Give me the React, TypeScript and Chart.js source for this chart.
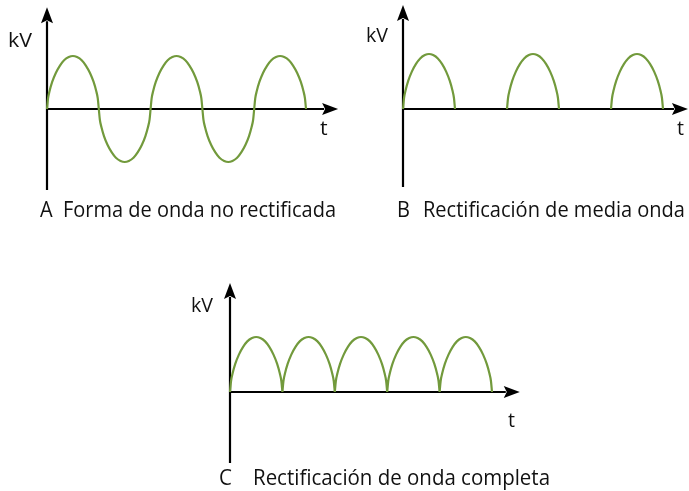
import React, { useEffect, useRef } from "react";
import { Chart, registerables } from "chart.js";

Chart.register(...registerables);

// ---- data (time in half-periods, voltage normalised to peak) ----
const timeAB = [
  0, 0.02, 0.05, 0.1, 0.17, 0.25, 0.33, 0.42, 0.5, 0.58, 0.67, 0.75, 0.83, 0.9, 0.95, 0.98,
  1, 1.02, 1.05, 1.1, 1.17, 1.25, 1.33, 1.42, 1.5, 1.58, 1.67, 1.75, 1.83, 1.9, 1.95, 1.98,
  2, 2.02, 2.05, 2.1, 2.17, 2.25, 2.33, 2.42, 2.5, 2.58, 2.67, 2.75, 2.83, 2.9, 2.95, 2.98,
  3, 3.02, 3.05, 3.1, 3.17, 3.25, 3.33, 3.42, 3.5, 3.58, 3.67, 3.75, 3.83, 3.9, 3.95, 3.98,
  4, 4.02, 4.05, 4.1, 4.17, 4.25, 4.33, 4.42, 4.5, 4.58, 4.67, 4.75, 4.83, 4.9, 4.95, 4.98,
  5,
];

const voltsA = [
  0, 0.2, 0.34, 0.51, 0.68, 0.82, 0.92, 0.98, 1, 0.98, 0.92, 0.82, 0.68, 0.51, 0.34, 0.2,
  0, -0.2, -0.34, -0.51, -0.68, -0.82, -0.92, -0.98, -1, -0.98, -0.92, -0.82, -0.68, -0.51, -0.34, -0.2,
  0, 0.2, 0.34, 0.51, 0.68, 0.82, 0.92, 0.98, 1, 0.98, 0.92, 0.82, 0.68, 0.51, 0.34, 0.2,
  0, -0.2, -0.34, -0.51, -0.68, -0.82, -0.92, -0.98, -1, -0.98, -0.92, -0.82, -0.68, -0.51, -0.34, -0.2,
  0, 0.2, 0.34, 0.51, 0.68, 0.82, 0.92, 0.98, 1, 0.98, 0.92, 0.82, 0.68, 0.51, 0.34, 0.2,
  0,
];

const voltsB = [
  0, 0.2, 0.34, 0.51, 0.68, 0.82, 0.92, 0.98, 1, 0.98, 0.92, 0.82, 0.68, 0.51, 0.34, 0.2,
  0, null, null, null, null, null, null, null, null, null, null, null, null, null, null, null,
  0, 0.2, 0.34, 0.51, 0.68, 0.82, 0.92, 0.98, 1, 0.98, 0.92, 0.82, 0.68, 0.51, 0.34, 0.2,
  0, null, null, null, null, null, null, null, null, null, null, null, null, null, null, null,
  0, 0.2, 0.34, 0.51, 0.68, 0.82, 0.92, 0.98, 1, 0.98, 0.92, 0.82, 0.68, 0.51, 0.34, 0.2,
  0,
];

const timeC = [
  0, 0.02, 0.05, 0.1, 0.17, 0.25, 0.33, 0.42, 0.5, 0.58, 0.67, 0.75, 0.83, 0.9, 0.95, 0.98, 1,
  1,
  1, 1.02, 1.05, 1.1, 1.17, 1.25, 1.33, 1.42, 1.5, 1.58, 1.67, 1.75, 1.83, 1.9, 1.95, 1.98, 2,
  2,
  2, 2.02, 2.05, 2.1, 2.17, 2.25, 2.33, 2.42, 2.5, 2.58, 2.67, 2.75, 2.83, 2.9, 2.95, 2.98, 3,
  3,
  3, 3.02, 3.05, 3.1, 3.17, 3.25, 3.33, 3.42, 3.5, 3.58, 3.67, 3.75, 3.83, 3.9, 3.95, 3.98, 4,
  4,
  4, 4.02, 4.05, 4.1, 4.17, 4.25, 4.33, 4.42, 4.5, 4.58, 4.67, 4.75, 4.83, 4.9, 4.95, 4.98, 5,
];

const voltsC = [
  0, 0.2, 0.34, 0.51, 0.68, 0.82, 0.92, 0.98, 1, 0.98, 0.92, 0.82, 0.68, 0.51, 0.34, 0.2, 0,
  null,
  0, 0.2, 0.34, 0.51, 0.68, 0.82, 0.92, 0.98, 1, 0.98, 0.92, 0.82, 0.68, 0.51, 0.34, 0.2, 0,
  null,
  0, 0.2, 0.34, 0.51, 0.68, 0.82, 0.92, 0.98, 1, 0.98, 0.92, 0.82, 0.68, 0.51, 0.34, 0.2, 0,
  null,
  0, 0.2, 0.34, 0.51, 0.68, 0.82, 0.92, 0.98, 1, 0.98, 0.92, 0.82, 0.68, 0.51, 0.34, 0.2, 0,
  null,
  0, 0.2, 0.34, 0.51, 0.68, 0.82, 0.92, 0.98, 1, 0.98, 0.92, 0.82, 0.68, 0.51, 0.34, 0.2, 0,
];

const yLabel = "kV";
const xLabel = "t";
const letters = ["A", "B", "C"];
const captions = [
  "Forma de onda no rectificada",
  "Rectificación de media onda",
  "Rectificación de onda completa",
];

// ---- layout / style ----
const GREEN = "#729a3c";
const TEXT = "#111";
const FONT = "'Open Sans', 'Noto Sans', sans-serif";
const CAPTION_SIZE = 21;
const LABEL_SIZE = 19.5;

type Panel = {
  time: number[];
  volts: (number | null)[];
  box: { left: number; top: number; w: number; h: number };
  pad: { left: number; right: number; top: number; bottom: number };
  ext: { yTop: number; yBottom: number; xRight: number };
  kvWidth: number;
  kv: { right: number; base: number };
  t: { left: number; base: number };
  cap: { letterX: number; left: number; right: number; base: number };
  letter: string;
  caption: string;
};

const panels: Panel[] = [
  {
    time: timeAB,
    volts: voltsA,
    box: { left: 0, top: 0, w: 345, h: 230 },
    pad: { left: 47, right: 39, top: 56, bottom: 68 },
    ext: { yTop: 1.92, yBottom: -1.53, xRight: 5.62 },
    kvWidth: 24,
    kv: { right: 32, base: 47 },
    t: { left: 320, base: 135 },
    cap: { letterX: 40, left: 63, right: 336, base: 217 },
    letter: letters[0],
    caption: captions[0],
  },
  {
    time: timeAB,
    volts: voltsB,
    box: { left: 345, top: 0, w: 344, h: 250 },
    pad: { left: 58, right: 26, top: 54, bottom: 86 },
    ext: { yTop: 1.89, yBottom: -1.42, xRight: 5.48 },
    kvWidth: 22,
    kv: { right: 43, base: 42 },
    t: { left: 332, base: 135 },
    cap: { letterX: 52, left: 78, right: 340, base: 217 },
    letter: letters[1],
    caption: captions[1],
  },
  {
    time: timeC,
    volts: voltsC,
    box: { left: 180, top: 270, w: 375, h: 221 },
    pad: { left: 50, right: 63, top: 67, bottom: 44 },
    ext: { yTop: 1.98, yBottom: -1.29, xRight: 5.53 },
    kvWidth: 22,
    kv: { right: 33, base: 42 },
    t: { left: 328, base: 157 },
    cap: { letterX: 39, left: 73, right: 370, base: 215 },
    letter: letters[2],
    caption: captions[2],
  },
];

function drawScaled(
  ctx: CanvasRenderingContext2D,
  text: string,
  x: number,
  base: number,
  sx: number
) {
  ctx.save();
  ctx.translate(x, base);
  ctx.scale(sx, 1);
  ctx.fillText(text, 0, 0);
  ctx.restore();
}

function makePlugin(p: Panel) {
  return {
    id: "axesArrows",
    beforeDatasetsDraw(chart: any) {
      const ctx: CanvasRenderingContext2D = chart.ctx;
      const xs = chart.scales.x;
      const ys = chart.scales.y;
      const x0 = xs.getPixelForValue(0);
      const y0 = ys.getPixelForValue(0);
      const yTop = ys.getPixelForValue(p.ext.yTop);
      const yBot = ys.getPixelForValue(p.ext.yBottom);
      const xRight = xs.getPixelForValue(p.ext.xRight);
      const headL = 16;
      const headW = 6;
      ctx.save();
      ctx.strokeStyle = "#000";
      ctx.fillStyle = "#000";
      ctx.lineWidth = 2.2;
      ctx.beginPath();
      ctx.moveTo(x0, yBot);
      ctx.lineTo(x0, yTop + headL - 2);
      ctx.moveTo(x0 - 1, y0);
      ctx.lineTo(xRight - headL + 2, y0);
      ctx.stroke();
      ctx.beginPath();
      ctx.moveTo(x0, yTop);
      ctx.lineTo(x0 + headW, yTop + headL);
      ctx.lineTo(x0, yTop + headL - 3);
      ctx.lineTo(x0 - headW, yTop + headL);
      ctx.closePath();
      ctx.fill();
      ctx.beginPath();
      ctx.moveTo(xRight, y0);
      ctx.lineTo(xRight - headL, y0 - headW);
      ctx.lineTo(xRight - headL + 3, y0);
      ctx.lineTo(xRight - headL, y0 + headW);
      ctx.closePath();
      ctx.fill();
      ctx.restore();
    },
    afterDraw(chart: any) {
      const ctx: CanvasRenderingContext2D = chart.ctx;
      ctx.save();
      ctx.fillStyle = TEXT;
      ctx.textBaseline = "alphabetic";
      ctx.textAlign = "left";
      ctx.font = `500 ${LABEL_SIZE}px ${FONT}`;
      const kvW = ctx.measureText(yLabel).width;
      const kvS = p.kvWidth / kvW;
      drawScaled(ctx, yLabel, p.kv.right - kvW * kvS, p.kv.base, kvS);
      drawScaled(ctx, xLabel, p.t.left, p.t.base, kvS);
      ctx.font = `500 ${CAPTION_SIZE}px ${FONT}`;
      const capW = ctx.measureText(p.caption).width;
      const capS = (p.cap.right - p.cap.left) / capW;
      drawScaled(ctx, p.letter, p.cap.letterX, p.cap.base, capS);
      drawScaled(ctx, p.caption, p.cap.left, p.cap.base, capS);
      ctx.restore();
    },
  };
}

function WavePanel({ p }: { p: Panel }) {
  const ref = useRef<HTMLCanvasElement | null>(null);
  useEffect(() => {
    if (!ref.current) return;
    const data = p.time.map((t, i) => ({ x: t, y: p.volts[i] }));
    const chart = new Chart(ref.current, {
      type: "line",
      data: {
        datasets: [
          {
            data: data as any,
            borderColor: GREEN,
            borderWidth: 2.2,
            pointRadius: 0,
            fill: false,
            spanGaps: false,
            cubicInterpolationMode: "monotone",
            clip: false as any,
          },
        ],
      },
      options: {
        animation: false,
        responsive: false,
        maintainAspectRatio: false,
        layout: { padding: p.pad },
        elements: { line: { capBezierPoints: false } },
        plugins: {
          legend: { display: false },
          tooltip: { enabled: false },
        },
        events: [],
        scales: {
          x: { type: "linear", display: false, min: 0, max: 5 },
          y: { type: "linear", display: false, min: -1, max: 1 },
        },
      },
      plugins: [makePlugin(p)],
    });
    return () => chart.destroy();
  }, [p]);
  return (
    <canvas
      ref={ref}
      width={p.box.w}
      height={p.box.h}
      style={{
        position: "absolute",
        left: p.box.left,
        top: p.box.top,
        width: p.box.w,
        height: p.box.h,
      }}
    />
  );
}

export default function App() {
  return (
    <div
      style={{
        position: "absolute",
        left: 0,
        top: 0,
        width: 689,
        height: 491,
        background: "#fff",
        overflow: "hidden",
      }}
    >
      {panels.map((p, i) => (
        <WavePanel key={i} p={p} />
      ))}
    </div>
  );
}
